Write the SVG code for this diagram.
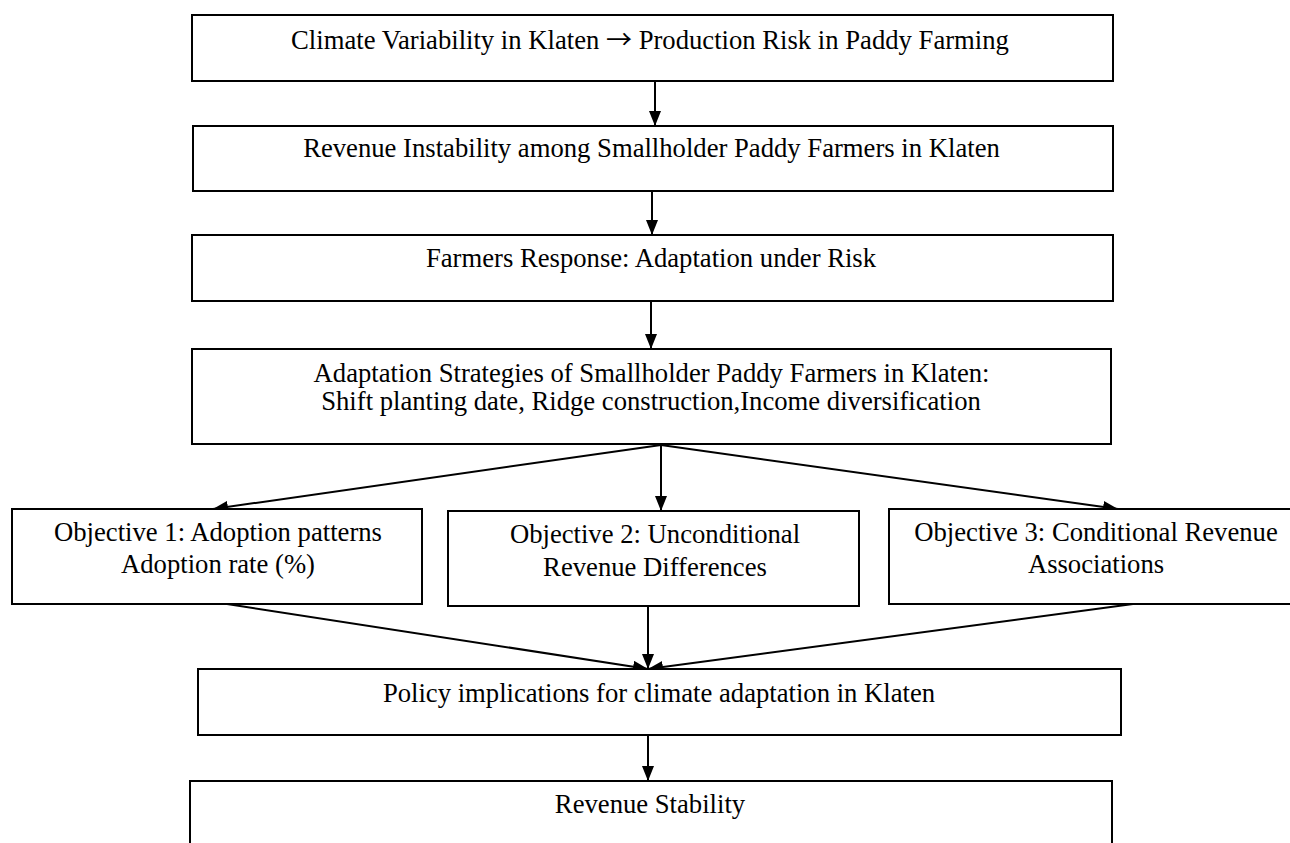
<svg xmlns="http://www.w3.org/2000/svg" width="1290" height="843" viewBox="0 0 1290 843">
<style>
.box{fill:#fff;stroke:#000;stroke-width:2}
.t{font-family:"Liberation Serif","Times New Roman",serif;font-size:26.67px;fill:#000;text-anchor:middle}
.arr{font-family:"Noto Sans CJK SC","Noto Sans CJK JP",sans-serif;font-size:26px}
.c{stroke:#000;stroke-width:2;fill:none;marker-end:url(#ah)}
</style>
<defs>
<marker id="ah" markerUnits="userSpaceOnUse" markerWidth="15" markerHeight="12" refX="15" refY="6" orient="auto">
<path d="M0,0 L15,6 L0,12 z" fill="#000"/>
</marker>
</defs>
<rect width="1290" height="843" fill="#fff"/>
<g id="connectors">
<line class="c" x1="655" y1="81" x2="655" y2="126"/>
<line class="c" x1="652" y1="191" x2="652" y2="235"/>
<line class="c" x1="651" y1="301" x2="651" y2="349"/>
<line class="c" x1="661" y1="445" x2="213" y2="509"/>
<line class="c" x1="661" y1="445" x2="661" y2="511"/>
<line class="c" x1="661" y1="445" x2="1118" y2="509"/>
<line class="c" x1="227" y1="604" x2="648" y2="669"/>
<line class="c" x1="648" y1="606" x2="648" y2="669"/>
<line class="c" x1="1133" y1="604" x2="648" y2="669"/>
<line class="c" x1="648" y1="735" x2="648" y2="781"/>
</g>
<g id="n1">
<rect class="box" x="192" y="15" width="921" height="66"/>
<text class="t" x="650" y="49">Climate Variability in Klaten <tspan class="arr">→</tspan> Production Risk in Paddy Farming</text>
</g>
<g id="n2">
<rect class="box" x="193" y="126" width="920" height="65"/>
<text class="t" x="651.5" y="157">Revenue Instability among Smallholder Paddy Farmers in Klaten</text>
</g>
<g id="n3">
<rect class="box" x="192" y="235" width="921" height="66"/>
<text class="t" x="651" y="267">Farmers Response: Adaptation under Risk</text>
</g>
<g id="n4">
<rect class="box" x="192" y="349" width="919" height="95"/>
<text class="t" x="651.5" y="382">Adaptation Strategies of Smallholder Paddy Farmers in Klaten:</text>
<text class="t" x="651" y="410">Shift planting date, Ridge construction,Income diversification</text>
</g>
<g id="o1">
<rect class="box" x="12" y="509" width="410" height="95"/>
<text class="t" x="218" y="541">Objective 1: Adoption patterns</text>
<text class="t" x="218" y="573">Adoption rate (%)</text>
</g>
<g id="o2">
<rect class="box" x="448" y="511" width="411" height="95"/>
<text class="t" x="655" y="543">Objective 2: Unconditional</text>
<text class="t" x="655" y="576">Revenue Differences</text>
</g>
<g id="o3">
<rect class="box" x="889" y="509" width="416" height="95"/>
<text class="t" x="1096" y="541">Objective 3: Conditional Revenue</text>
<text class="t" x="1096" y="573">Associations</text>
</g>
<g id="policy">
<rect class="box" x="198" y="669" width="923" height="66"/>
<text class="t" x="659" y="702">Policy implications for climate adaptation in Klaten</text>
</g>
<g id="stability">
<rect class="box" x="190" y="781" width="922" height="80"/>
<text class="t" x="650" y="813">Revenue Stability</text>
</g>
</svg>
